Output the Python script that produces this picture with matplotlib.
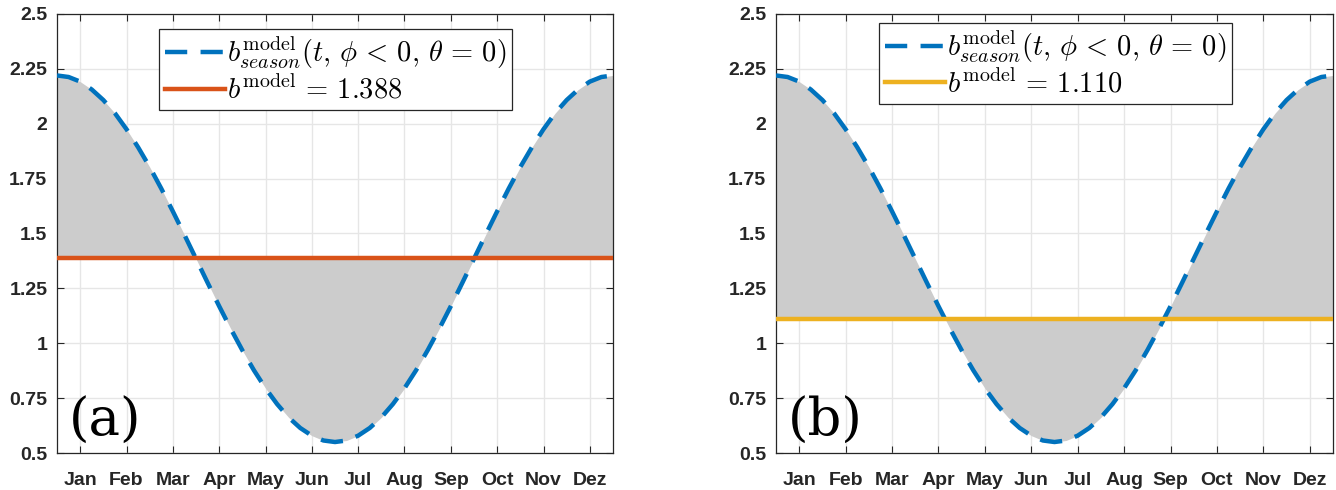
import matplotlib
matplotlib.use("Agg")
import matplotlib.pyplot as plt

# month position (0 = start of Jan, 12 = end of Dez), read in quarter-month steps
t = [0.0, 0.25, 0.5, 0.75, 1.0, 1.25, 1.5, 1.75, 2.0, 2.25, 2.5, 2.75,
     3.0, 3.25, 3.5, 3.75, 4.0, 4.25, 4.5, 4.75, 5.0, 5.25, 5.5, 5.75,
     6.0, 6.25, 6.5, 6.75, 7.0, 7.25, 7.5, 7.75, 8.0, 8.25, 8.5, 8.75,
     9.0, 9.25, 9.5, 9.75, 10.0, 10.25, 10.5, 10.75, 11.0, 11.25, 11.5, 11.75, 12.0]

b_season = [2.220, 2.213, 2.192, 2.156, 2.108, 2.048, 1.975, 1.893, 1.803, 1.705, 1.601, 1.494,
            1.385, 1.276, 1.169, 1.066, 0.968, 0.877, 0.795, 0.723, 0.662, 0.614, 0.579, 0.557,
            0.550, 0.557, 0.579, 0.614, 0.662, 0.723, 0.795, 0.877, 0.968, 1.066, 1.169, 1.276,
            1.385, 1.494, 1.601, 1.705, 1.803, 1.893, 1.975, 2.048, 2.108, 2.156, 2.192, 2.213, 2.220]

b_const = [1.388, 1.110]
const_labels = ["1.388", "1.110"]
panel_labels = ["(a)", "(b)"]
line_colors = ["#D95319", "#EDB120"]

month_pos = [0.5, 1.5, 2.5, 3.5, 4.5, 5.5, 6.5, 7.5, 8.5, 9.5, 10.5, 11.5]
month_names = ["Jan", "Feb", "Mar", "Apr", "May", "Jun",
               "Jul", "Aug", "Sep", "Oct", "Nov", "Dez"]
y_ticks = [0.5, 0.75, 1.0, 1.25, 1.5, 1.75, 2.0, 2.25, 2.5]
y_labels = ["0.5", "0.75", "1", "1.25", "1.5", "1.75", "2", "2.25", "2.5"]

plt.rcParams["mathtext.fontset"] = "cm"

W, H = 1336, 490
fig = plt.figure(figsize=(W / 100, H / 100), dpi=100)

# axes boxes in pixels: left, top, right, bottom
boxes = [(57, 14, 613, 453), (776, 14, 1333, 453)]
legend_anchor = [(0.1835, 0.966), (0.185, 0.980)]
dark = "#262626"

for i in range(2):
    l, tp, r, bt = boxes[i]
    ax = fig.add_axes([l / W, 1 - bt / H, (r - l) / W, (bt - tp) / H])
    ax.set_axisbelow(True)
    ax.grid(True, color="#e6e6e6", linewidth=1.0)

    ax.fill_between(t, b_season, b_const[i], color="#cccccc", linewidth=0, zorder=1)
    ax.plot(t, b_season, color="#0072BD", linewidth=3.2, linestyle=(0, (5, 3)),
            label=r"$b^{\mathrm{model}}_{season}(t,\,\phi\,<\,0,\,\theta\,=\,0)$", zorder=3)
    ax.axhline(b_const[i], color=line_colors[i], linewidth=3.2,
               label=r"$b^{\mathrm{model}}\,=\,%s$" % const_labels[i], zorder=3)

    ax.set_xlim(0, 12)
    ax.set_ylim(0.5, 2.5)
    ax.set_xticks(month_pos)
    ax.set_xticklabels(month_names)
    ax.set_yticks(y_ticks)
    ax.set_yticklabels(y_labels)
    ax.tick_params(direction="in", length=5, width=0.8, color=dark,
                   top=True, right=True, labelsize=14, labelcolor=dark, pad=7)
    ax.tick_params(axis="x", pad=14)
    for lab in ax.get_xticklabels() + ax.get_yticklabels():
        lab.set_fontweight("bold")
        lab.set_fontfamily("Liberation Sans")
    for sp in ax.spines.values():
        sp.set_color(dark)
        sp.set_linewidth(0.9)

    leg = ax.legend(loc="upper left", bbox_to_anchor=legend_anchor[i],
                    borderaxespad=0, fontsize=20.5, frameon=True, fancybox=False,
                    framealpha=1, edgecolor=dark, handlelength=2.1,
                    handletextpad=0.1, borderpad=0.2, labelspacing=0.12)
    leg.get_frame().set_linewidth(0.9)

    ax.text(0.021, 0.038, panel_labels[i], transform=ax.transAxes,
            fontsize=38, family="DejaVu Serif", ha="left", va="baseline",
            color="black", zorder=5)

fig.savefig("out.png", dpi=100)
